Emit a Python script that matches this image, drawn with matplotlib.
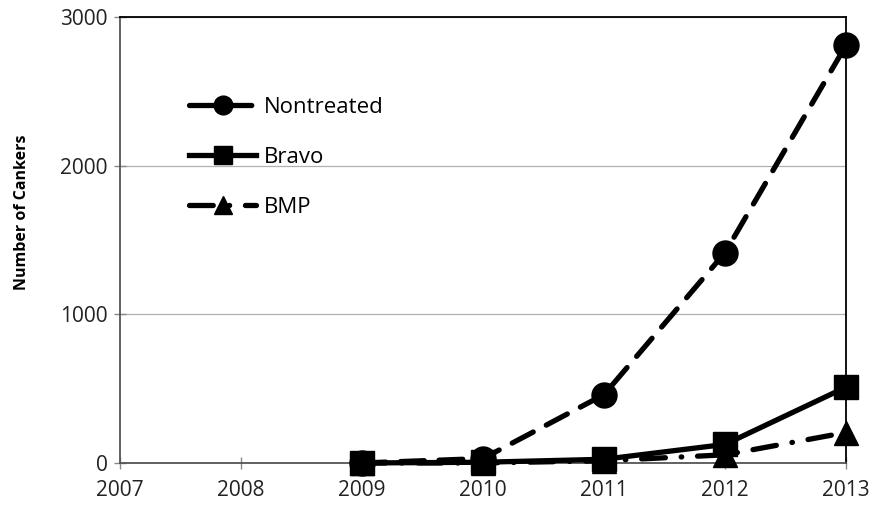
import matplotlib.pyplot as plt

years = [2009, 2010, 2011, 2012, 2013]
nontreated = [0, 30, 460, 1415, 2810]
bravo = [0, 5, 25, 125, 510]
bmp = [0, 0, 15, 55, 205]

plt.rcParams['font.family'] = ['Open Sans', 'DejaVu Sans']

fig = plt.figure(figsize=(8.74, 5.13), dpi=100)
ax = fig.add_axes([0.1373, 0.0975, 0.968 - 0.1373, 0.9669 - 0.0975])

lw = 3.8
ax.plot(years, nontreated, color='black', lw=lw, ls=(0, (4.5, 2.8)),
        dash_capstyle='round', marker='o', ms=18, label='Nontreated',
        zorder=3, clip_on=False)
ax.plot(years, bmp, color='black', lw=lw, ls=(0, (4.5, 3, 0.1, 3)),
        dash_capstyle='round', marker='^', ms=17, label='BMP',
        zorder=4, clip_on=False)
ax.plot(years, bravo, color='black', lw=lw, ls='-',
        marker='s', ms=17, label='Bravo', zorder=5, clip_on=False)

ax.set_xlim(2007, 2013)
ax.set_ylim(0, 3000)
ax.set_xticks(range(2007, 2014))
ax.set_yticks([0, 1000, 2000, 3000])
ax.yaxis.grid(True, color='#b0b0b0', lw=0.9)
ax.set_axisbelow(True)

for s in ['left', 'bottom']:
    ax.spines[s].set_color('#555555')
    ax.spines[s].set_linewidth(1.3)
for s in ['top', 'right']:
    ax.spines[s].set_color('black')
    ax.spines[s].set_linewidth(1.3)

ax.tick_params(direction='inout', length=8, width=1, color='#888888',
               labelsize=15, labelcolor='#222222', pad=5)
ax.tick_params(axis='x', pad=8)
ax.set_ylabel('Number of Cankers', fontsize=11.5, fontweight='bold')
ax.yaxis.set_label_coords(-0.124, 0.563)

h, l = ax.get_legend_handles_labels()
order = [0, 2, 1]
ax.legend([h[i] for i in order], [l[i] for i in order], loc='upper left',
          bbox_to_anchor=(0.068, 0.866), frameon=False, fontsize=16,
          handlelength=3.0, labelspacing=1.3, markerscale=0.75, handletextpad=0.35)

fig.savefig('out.png', dpi=100)
